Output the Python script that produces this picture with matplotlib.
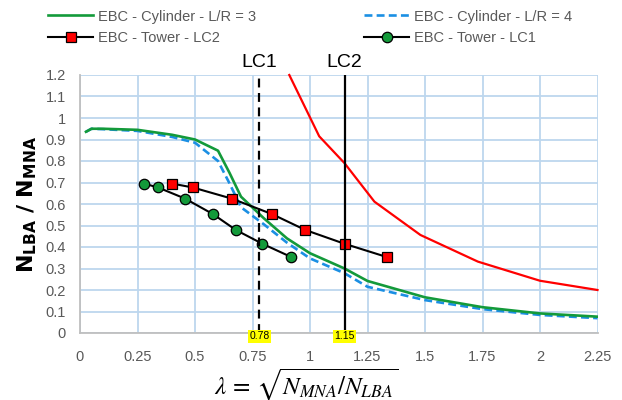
import matplotlib
matplotlib.use("Agg")
import matplotlib.pyplot as plt
from matplotlib.lines import Line2D

plt.rcParams['font.family'] = ['Liberation Sans', 'DejaVu Sans']

# ---- data ----
cyl3_x = [0.026, 0.05, 0.1, 0.25, 0.4, 0.5, 0.6, 0.65, 0.70, 0.8, 0.9, 1.0, 1.15, 1.25, 1.5, 1.75, 2.0, 2.25]
cyl3_y = [0.936, 0.950, 0.950, 0.945, 0.922, 0.900, 0.848, 0.745, 0.634, 0.533, 0.440, 0.371, 0.300, 0.242, 0.166, 0.120, 0.091, 0.076]

cyl4_x = [0.026, 0.05, 0.1, 0.25, 0.4, 0.5, 0.6, 0.65, 0.70, 0.8, 0.9, 1.0, 1.15, 1.25, 1.5, 1.75, 2.0, 2.25]
cyl4_y = [0.936, 0.950, 0.948, 0.940, 0.912, 0.885, 0.800, 0.696, 0.585, 0.505, 0.420, 0.347, 0.278, 0.215, 0.153, 0.111, 0.084, 0.069]

red_x = [0.91, 1.04, 1.15, 1.28, 1.48, 1.73, 2.0, 2.25]
red_y = [1.20, 0.915, 0.790, 0.611, 0.456, 0.332, 0.243, 0.200]

lc2_x = [0.40, 0.49, 0.66, 0.835, 0.98, 1.15, 1.335]
lc2_y = [0.695, 0.677, 0.625, 0.553, 0.479, 0.415, 0.353]

lc1_x = [0.278, 0.339, 0.457, 0.578, 0.678, 0.793, 0.919]
lc1_y = [0.695, 0.677, 0.625, 0.553, 0.479, 0.415, 0.353]

lc1_lambda = 0.78
lc2_lambda = 1.15

x_ticks = [0, 0.25, 0.5, 0.75, 1, 1.25, 1.5, 1.75, 2, 2.25]
x_ticklabels = ['0', '0.25', '0.5', '0.75', '1', '1.25', '1.5', '1.75', '2', '2.25']
y_ticks = [0, 0.1, 0.2, 0.3, 0.4, 0.5, 0.6, 0.7, 0.8, 0.9, 1.0, 1.1, 1.2]
y_ticklabels = ['0', '0.1', '0.2', '0.3', '0.4', '0.5', '0.6', '0.7', '0.8', '0.9', '1', '1.1', '1.2']

# ---- styles ----
GREEN = '#139A3A'
BLUE = '#1B8FE3'
RED = '#FF0000'
GRID = '#BDD7EE'
TXT = '#595959'

W, H = 622, 400
fig = plt.figure(figsize=(W / 100, H / 100), dpi=100)
ax = fig.add_axes([80 / W, 1 - 333 / H, (597.5 - 80) / W, (333 - 75) / H])

ax.set_xlim(0, 2.25)
ax.set_ylim(0, 1.2)
ax.set_xticks(x_ticks)
ax.set_xticklabels(x_ticklabels)
ax.set_yticks(y_ticks)
ax.set_yticklabels(y_ticklabels)
ax.grid(True, color=GRID, linewidth=1.3, zorder=0)
ax.set_axisbelow(True)
for s in ['top', 'right']:
    ax.spines[s].set_visible(False)
for s in ['left', 'bottom']:
    ax.spines[s].set_color('#BFBFBF')
    ax.spines[s].set_linewidth(1.3)
ax.tick_params(axis='both', length=0, labelsize=10.5, labelcolor=TXT)
ax.tick_params(axis='x', pad=12)
ax.tick_params(axis='y', pad=10)

ax.plot(red_x, red_y, color=RED, lw=1.6, zorder=3, clip_on=False)
ax.plot(cyl4_x, cyl4_y, color=BLUE, lw=1.9, ls=(0, (3, 1.6)), zorder=3)
ax.plot(cyl3_x, cyl3_y, color=GREEN, lw=1.9, zorder=4)
ax.plot(lc2_x, lc2_y, color='black', lw=1.5, marker='s', ms=7, mfc=RED, mec='black', mew=0.9, zorder=5)
ax.plot(lc1_x, lc1_y, color='black', lw=1.5, marker='o', ms=7.5, mfc=GREEN, mec='black', mew=0.9, zorder=5)

ax.axvline(lc1_lambda, color='black', lw=1.6, ls=(0, (4, 2.5)), zorder=6)
ax.axvline(lc2_lambda, color='black', lw=1.6, zorder=6)

for v, nm in [(lc1_lambda, 'LC1'), (lc2_lambda, 'LC2')]:
    ax.annotate(nm, xy=(v, 1.0), xycoords=('data', 'axes fraction'),
                xytext=(0, 3), textcoords='offset points', ha='center', va='bottom',
                fontsize=14, color='black', annotation_clip=False)
    ax.annotate(f'{v:.2f}', xy=(v, 0.0), xycoords=('data', 'axes fraction'),
                xytext=(0, -2.5), textcoords='offset points', ha='center', va='center',
                fontsize=7.5, color='black', annotation_clip=False, zorder=10,
                bbox=dict(boxstyle='square,pad=0.15', fc='#FFFF00', ec='none'))

# axis labels
fig.text(27 / W, 1 - 204 / H, r'$\mathbf{N_{LBA}\ /\ N_{MNA}}$', rotation=90,
         ha='center', va='center', fontsize=16, color='black')
fig.text(306 / W, 5 / H, r'$\lambda\,=\,\sqrt{N_{MNA}/N_{LBA}}$', ha='center', va='baseline',
         fontsize=18, color='black', math_fontfamily='stix')

# legend
h_cyl3 = Line2D([], [], color=GREEN, lw=1.9)
h_cyl4 = Line2D([], [], color=BLUE, lw=1.9, ls=(0, (3, 1.6)))
h_lc2 = Line2D([], [], color='black', lw=1.5, marker='s', ms=7, mfc=RED, mec='black', mew=0.9)
h_lc1 = Line2D([], [], color='black', lw=1.5, marker='o', ms=7.5, mfc=GREEN, mec='black', mew=0.9)

leg_kw = dict(loc='upper left', frameon=False, fontsize=10.5, handlelength=3.1,
              handletextpad=0.35, labelspacing=0.5, borderpad=0, borderaxespad=0,
              labelcolor=TXT)
leg1 = fig.legend([h_cyl3, h_lc2], ['EBC - Cylinder - L/R = 3', 'EBC - Tower - LC2'],
                  bbox_to_anchor=(48 / W, 1 - 9.5 / H), **leg_kw)
leg2 = fig.legend([h_cyl4, h_lc1], ['EBC - Cylinder - L/R = 4', 'EBC - Tower - LC1'],
                  bbox_to_anchor=(364 / W, 1 - 9.5 / H), **leg_kw)

fig.savefig('out.png', dpi=100)
